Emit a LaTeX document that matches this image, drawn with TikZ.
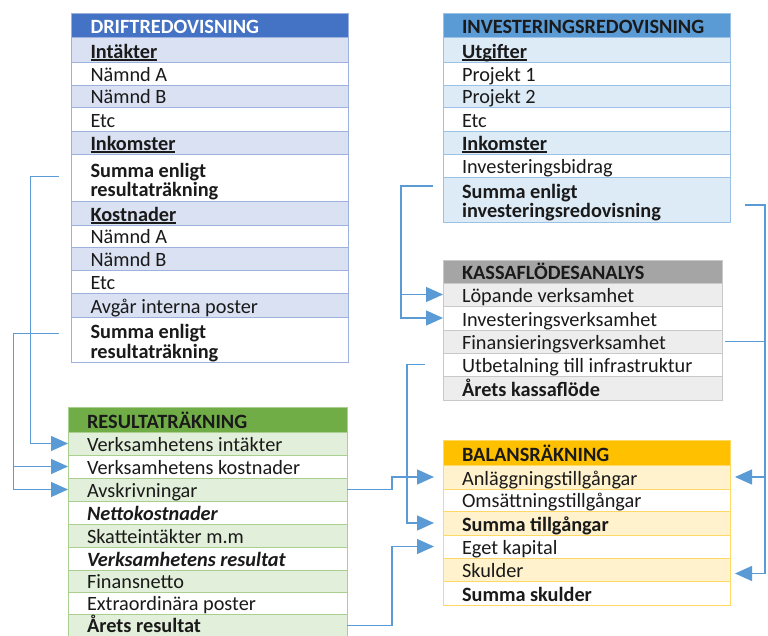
\documentclass[tikz,border=0pt]{standalone}
\usepackage{fontspec}
\setmainfont{Carlito}
\usetikzlibrary{arrows.meta}
\definecolor{lineblue}{HTML}{5B9BD5}
\definecolor{txtcol}{HTML}{1A1A1A}
\definecolor{dhead}{HTML}{4472C4}\definecolor{dshade}{HTML}{D9E1F2}\definecolor{dborder}{HTML}{9CB1DE}
\definecolor{ihead}{HTML}{5B9BD5}\definecolor{ishade}{HTML}{DDEBF7}\definecolor{iborder}{HTML}{9BC2E6}
\definecolor{khead}{HTML}{A5A5A5}\definecolor{kshade}{HTML}{EDEDED}\definecolor{kborder}{HTML}{C9C9C9}
\definecolor{rhead}{HTML}{70AD47}\definecolor{rshade}{HTML}{E2EFDA}\definecolor{rborder}{HTML}{A9D08E}
\definecolor{bhead}{HTML}{FFC000}\definecolor{bshade}{HTML}{FFF2CC}\definecolor{bborder}{HTML}{FFD966}
\tikzset{
  cellbase/.style={draw, line width=0.9pt, anchor=north west, inner sep=0pt, outer sep=0pt},
  dh/.style={cellbase, fill=dhead, draw=dborder},
  ds/.style={cellbase, fill=dshade, draw=dborder},
  dw/.style={cellbase, fill=white, draw=dborder},
  ih/.style={cellbase, fill=ihead, draw=iborder},
  is/.style={cellbase, fill=ishade, draw=iborder},
  iw/.style={cellbase, fill=white, draw=iborder},
  kh/.style={cellbase, fill=khead, draw=kborder},
  ks/.style={cellbase, fill=kshade, draw=kborder},
  kw/.style={cellbase, fill=white, draw=kborder},
  rh/.style={cellbase, fill=rhead, draw=rborder},
  rs/.style={cellbase, fill=rshade, draw=rborder},
  rw/.style={cellbase, fill=white, draw=rborder},
  bh/.style={cellbase, fill=bhead, draw=bborder},
  bs/.style={cellbase, fill=bshade, draw=bborder},
  bw/.style={cellbase, fill=white, draw=bborder},
  lbltxt/.style={anchor=base west, inner sep=0pt, outer sep=0pt, font=\fontsize{20.3}{23}\selectfont, text=txtcol},
  conn/.style={draw=lineblue, line width=1.3pt},
  arr/.style={conn, -{Triangle[length=17pt,width=15pt]}},
}
\newcommand\rowc[7]{%
  \node[#6, minimum width=#4pt, minimum height=#5pt] (#1) at (#2,#3) {};
  \node[lbltxt] (#1t) at ([xshift=19pt,yshift=3.8pt]#1.south west) {#7};}
\newcommand\rowtwo[8]{%
  \node[#6, minimum width=#4pt, minimum height=#5pt] (#1) at (#2,#3) {};
  \node[lbltxt] (#1a) at ([xshift=19pt,yshift=23.5pt]#1.south west) {#7};
  \node[lbltxt] (#1b) at ([xshift=19pt,yshift=4pt]#1.south west) {#8};}
\newcommand\ul[1]{\setbox0\hbox{\bfseries #1}\rlap{\rule[-2.4pt]{\wd0}{1.2pt}}\box0}
\begin{document}
\begin{tikzpicture}[x=1pt,y=-1pt]
\clip (0,0) rectangle (768,636);
\fill[white] (0,0) rectangle (768,636);
% DRIFTREDOVISNING
\rowc{dh}{71.5}{13}{277}{24}{dh}{\textbf{\color{white}DRIFTREDOVISNING}}
\rowc{d1}{71.5}{37}{277}{25}{ds}{\ul{Intäkter}}
\rowc{d2}{71.5}{62}{277}{23}{dw}{Nämnd A}
\rowc{d3}{71.5}{85}{277}{22}{ds}{Nämnd B}
\rowc{d4}{71.5}{107}{277}{24}{dw}{Etc}
\rowc{d5}{71.5}{131}{277}{23}{ds}{\ul{Inkomster}}
\rowtwo{d6}{71.5}{154}{277}{47}{dw}{\textbf{Summa enligt}}{\textbf{resultaträkning}}
\rowc{d7}{71.5}{201}{277}{24}{ds}{\ul{Kostnader}}
\rowc{d8}{71.5}{225}{277}{22}{dw}{Nämnd A}
\rowc{d9}{71.5}{247}{277}{23}{ds}{Nämnd B}
\rowc{d10}{71.5}{270}{277}{23}{dw}{Etc}
\rowc{d11}{71.5}{293}{277}{24}{ds}{Avgår interna poster}
\rowtwo{d12}{71.5}{317}{277}{45}{dw}{\textbf{Summa enligt}}{\textbf{resultaträkning}}
% INVESTERINGSREDOVISNING
\rowc{ih}{443}{13}{287}{24}{ih}{\textbf{INVESTERINGSREDOVISNING}}
\rowc{i1}{443}{37}{287}{25}{is}{\ul{Utgifter}}
\rowc{i2}{443}{62}{287}{23}{iw}{Projekt 1}
\rowc{i3}{443}{85}{287}{22}{is}{Projekt 2}
\rowc{i4}{443}{107}{287}{24}{iw}{Etc}
\rowc{i5}{443}{131}{287}{23}{is}{\ul{Inkomster}}
\rowc{i6}{443}{154}{287}{23}{iw}{Investeringsbidrag}
\rowtwo{i7}{443}{177}{287}{45}{is}{\textbf{Summa enligt}}{\textbf{investeringsredovisning}}
% KASSAFLÖDESANALYS
\rowc{kh}{443}{260}{279}{23}{kh}{\textbf{KASSAFLÖDESANALYS}}
\rowc{k1}{443}{283}{279}{23}{ks}{Löpande verksamhet}
\rowc{k2}{443}{306}{279}{24}{kw}{Investeringsverksamhet}
\rowc{k3}{443}{330}{279}{23}{ks}{Finansieringsverksamhet}
\rowc{k4}{443}{353}{279}{23}{kw}{Utbetalning till infrastruktur}
\rowc{k5}{443}{376}{279}{24}{ks}{\textbf{Årets kassaflöde}}
% RESULTATRÄKNING
\rowc{rh}{68}{407}{279}{25}{rh}{\textbf{RESULTATRÄKNING}}
\rowc{r1}{68}{432}{279}{23}{rs}{Verksamhetens intäkter}
\rowc{r2}{68}{455}{279}{23}{rw}{Verksamhetens kostnader}
\rowc{r3}{68}{478}{279}{23}{rs}{Avskrivningar}
\rowc{r4}{68}{501}{279}{23}{rw}{\textbf{\itshape Nettokostnader}}
\rowc{r5}{68}{524}{279}{23}{rs}{Skatteintäkter m.m}
\rowc{r6}{68}{547}{279}{23}{rw}{\textbf{\itshape Verksamhetens resultat}}
\rowc{r7}{68}{570}{279}{22.5}{rs}{Finansnetto}
\rowc{r8}{68}{592.5}{279}{22}{rw}{Extraordinära poster}
\rowc{r9}{68}{614.5}{279}{22}{rs}{\textbf{Årets resultat}}
% BALANSRÄKNING
\rowc{bh}{443}{440}{287}{25}{bh}{\textbf{BALANSRÄKNING}}
\rowc{b1}{443}{465}{287}{24}{bs}{Anläggningstillgångar}
\rowc{b2}{443}{489}{287}{22}{bw}{Omsättningstillgångar}
\rowc{b3}{443}{511}{287}{24}{bs}{\textbf{Summa tillgångar}}
\rowc{b4}{443}{535}{287}{23}{bw}{Eget kapital}
\rowc{b5}{443}{558}{287}{23}{bs}{Skulder}
\rowc{b6}{443}{581}{287}{24}{bw}{\textbf{Summa skulder}}
% connectors
\draw[arr] ([xshift=-13pt,yshift=1pt]d6.west) -- ++(-28,0) |- (r1.west);
\draw[arr] ([xshift=-13pt,yshift=6pt]d12.west) -- ++(-45,0) |- (r2.west);
\draw[arr] ([xshift=-13pt,yshift=6pt]d12.west) -- ++(-45,0) |- (r3.west);
\draw[arr, shorten >=9pt] (r3.east) -- ++(45,0) |- (b1.west);
\draw[arr, shorten >=9pt] (r9.east) -- ++(45,0) |- (b4.west);
\draw[arr, shorten >=9pt] ([xshift=-18pt]k4.west) -- ++(-18,0) |- (b3.west);
\draw[arr] ([xshift=-10pt,yshift=13.5pt]i7.west) -- ++(-32,0) |- (k1.west);
\draw[arr] ([xshift=-10pt,yshift=13.5pt]i7.west) -- ++(-32,0) |- (k2.west);
\draw[arr, shorten >=5pt] ([xshift=15pt,yshift=-5.5pt]i7.east) -- ++(20,0) |- (b1.east);
\draw[arr, shorten >=5pt] ([xshift=3pt]k3.east) -- ++(40,0) |- ([yshift=-4pt]b5.east);
\end{tikzpicture}
\end{document}
